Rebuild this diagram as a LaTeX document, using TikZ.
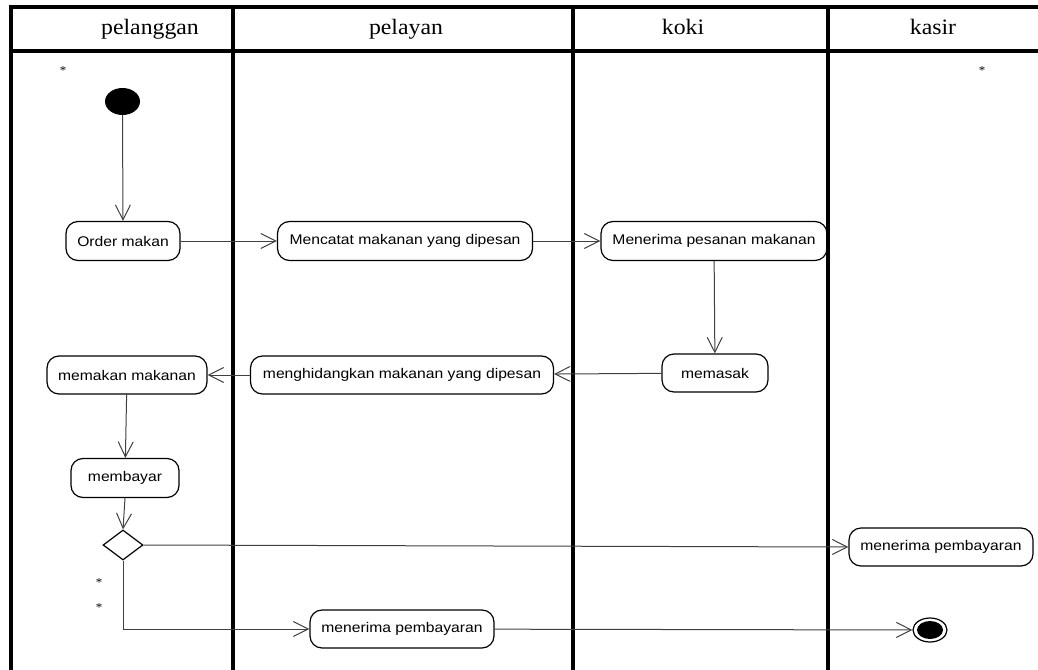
\documentclass[tikz,border=0pt]{standalone}
\usepackage{fontspec}
\usetikzlibrary{arrows.meta,shapes.geometric}
\newfontfamily\boxfont[FakeStretch=1.12]{Liberation Sans}
\newfontfamily\headfont[FakeStretch=1.08]{Liberation Serif}
\begin{document}
\begin{tikzpicture}[x=1pt,y=-1pt,
  act/.style={draw=black, line width=1.2pt, rounded corners=12pt, inner sep=0pt, align=center, font=\boxfont\fontsize{14}{16}\selectfont},
  flow/.style={draw=black!75, line width=1pt, -{Straight Barb[length=15pt,width=15pt]}},
  lane/.style={line width=4pt, draw=black},
  head/.style={font=\headfont\fontsize{22}{26}\selectfont, anchor=base, inner sep=0pt},
  star/.style={font=\headfont\fontsize{12}{14}\selectfont, inner sep=0pt}]
\useasboundingbox (0,0) rectangle (1038,669);
% swimlane frame
\draw[lane] (11,671) -- (11,7) -- (1042,7);
\draw[lane] (11,51) -- (1042,51);
\draw[lane] (233,7) -- (233,671);
\draw[lane] (573,7) -- (573,671);
\draw[lane] (828,7) -- (828,671);
% headers
\node[head] (h1) at (150,35) {pelanggan};
\node[head] (h2) at (406,35) {pelayan};
\node[head] (h3) at (683,35) {koki};
\node[head] (h4) at (933,35) {kasir};
% stars
\node[star] (s1) at (63,71) {*};
\node[star] (s2) at (982,71) {*};
\node[star] (s3) at (99,583) {*};
\node[star] (s4) at (99,608) {*};
% nodes
\node[ellipse, fill=black, minimum width=35pt, minimum height=27pt, inner sep=0pt] (init) at (122.5,101.5) {};
\node[act, minimum width=114pt, minimum height=39pt] (om) at (123,241) {Order makan};
\node[act, minimum width=255pt, minimum height=39pt] (mc) at (405,241) {Mencatat makanan yang dipesan};
\node[act, minimum width=226pt, minimum height=39pt] (mp) at (714,241) {Menerima pesanan makanan};
\node[act, minimum width=106pt, minimum height=38pt] (ms) at (715,373) {memasak};
\node[act, minimum width=303pt, minimum height=38pt] (mh) at (402,375) {menghidangkan makanan yang dipesan};
\node[act, minimum width=160pt, minimum height=38pt] (mm) at (127,375) {memakan makanan};
\node[act, minimum width=108pt, minimum height=39pt] (mb) at (125,478) {membayar};
\node[diamond, draw=black, line width=1.2pt, aspect=1.333, minimum width=40pt, minimum height=30pt, inner sep=0pt] (dec) at (123,545) {};
\node[act, minimum width=184pt, minimum height=38pt] (kp) at (941,547) {menerima pembayaran};
\node[act, minimum width=184pt, minimum height=38pt] (pp) at (402,629) {menerima pembayaran};
\node[ellipse, draw=black, line width=1.2pt, minimum width=34pt, minimum height=24pt, inner sep=0pt] (fin) at (930,630) {};
\node[ellipse, fill=black, minimum width=26pt, minimum height=18pt, inner sep=0pt] (fininner) at (fin.center) {};
% flows
\draw[flow] (init.south) -- (om.north);
\draw[flow] (om) -- (mc);
\draw[flow] (mc) -- (mp);
\draw[flow] (mp) -- (ms);
\draw[flow] (ms) -- (mh);
\draw[flow] (mh) -- (mm);
\draw[flow] (mm) -- (mb);
\draw[flow] (mb.south) -- (dec.north);
\draw[flow] (dec.east) -- (kp.west);
\draw[flow] (dec.south) |- (pp.west);
\draw[flow] (pp) -- (fin);
\end{tikzpicture}
\end{document}
